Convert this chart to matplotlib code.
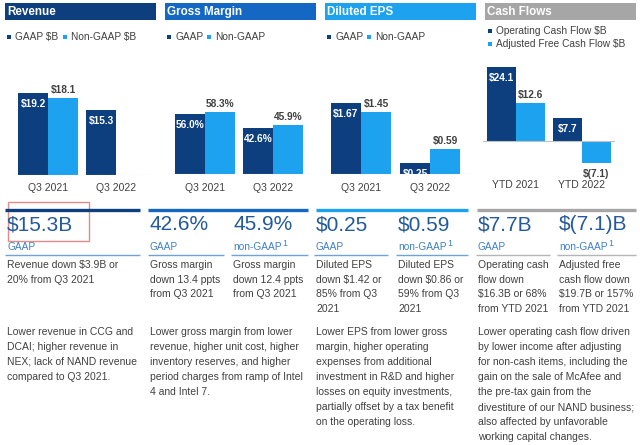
import matplotlib
matplotlib.use('Agg')
import matplotlib.pyplot as plt
from matplotlib.patches import Rectangle
from matplotlib.lines import Line2D

plt.rcParams['font.family'] = ['Liberation Sans', 'DejaVu Sans']
plt.rcParams['text.parse_math'] = False

# ---- data ----
periods_q = ['Q3 2021', 'Q3 2022']
periods_ytd = ['YTD 2021', 'YTD 2022']

revenue_gaap = [19.2, 15.3]
revenue_nongaap = [18.1, None]

margin_gaap = [56.0, 42.6]
margin_nongaap = [58.3, 45.9]

eps_gaap = [1.67, 0.25]
eps_nongaap = [1.45, 0.59]

op_cash_flow = [24.1, 7.7]
adj_free_cash_flow = [12.6, -7.1]

headers = ['Revenue', 'Gross Margin', 'Diluted EPS', 'Cash Flows']
big_numbers = ['$15.3B', '42.6%', '45.9%', '$0.25', '$0.59', '$7.7B', '$(7.1)B']
sub_labels = ['GAAP', 'GAAP', 'non-GAAP', 'GAAP', 'non-GAAP', 'GAAP', 'non-GAAP']
short_notes = [
    'Revenue down $3.9B or\n20% from Q3 2021',
    'Gross margin\ndown 13.4 ppts\nfrom Q3 2021',
    'Gross margin\ndown 12.4 ppts\nfrom Q3 2021',
    'Diluted EPS\ndown $1.42 or\n85% from Q3\n2021',
    'Diluted EPS\ndown $0.86 or\n59% from Q3\n2021',
    'Operating cash\nflow down\n$16.3B or 68%\nfrom YTD 2021',
    'Adjusted free\ncash flow down\n$19.7B or 157%\nfrom YTD 2021',
]
long_notes = [
    'Lower revenue in CCG and\nDCAI; higher revenue in\nNEX; lack of NAND revenue\ncompared to Q3 2021.',
    'Lower gross margin from lower\nrevenue, higher unit cost, higher\ninventory reserves, and higher\nperiod charges from ramp of Intel\n4 and Intel 7.',
    'Lower EPS from lower gross\nmargin, higher operating\nexpenses from additional\ninvestment in R&D and higher\nlosses on equity investments,\npartially offset by a tax benefit\non the operating loss.',
    'Lower operating cash flow driven\nby lower income after adjusting\nfor non-cash items, including the\ngain on the sale of McAfee and\nthe pre-tax gain from the\ndivestiture of our NAND business;\nalso affected by unfavorable\nworking capital changes.',
]

# ---- colours ----
NAVY = '#0d3f7e'
MID = '#1468c4'
SKY = '#1ca2ee'
GREY = '#a6a6a6'
TEXT = '#404040'
BIG = '#24599b'
SUB = '#3f80c6'

W, H = 640, 445
fig = plt.figure(figsize=(6.4, 4.45), dpi=100)


def fx(x):
    return x / W


def fy(y):
    return 1 - y / H


def ftext(x, y, s, **kw):
    kw.setdefault('va', 'center')
    kw.setdefault('ha', 'left')
    return fig.text(fx(x), fy(y), s, **kw)


def hline(x0, x1, y, color, lw):
    fig.add_artist(Line2D([fx(x0), fx(x1)], [fy(y), fy(y)], color=color, lw=lw,
                          solid_capstyle='butt', transform=fig.transFigure))


def rect(x, y, w, h, **kw):
    fig.add_artist(Rectangle((fx(x), fy(y + h)), w / W, h / H,
                             transform=fig.transFigure, **kw))


def make_ax(x0, x1, ytop, ybot, base, scale, c0, spacing):
    # axes placed so that value 0 sits on the chart baseline
    ax = fig.add_axes([fx(x0), fy(ybot), (x1 - x0) / W, (ybot - ytop) / H])
    ax.set_xlim((x0 - c0) / spacing, (x1 - c0) / spacing)
    ax.set_ylim((base - ybot) / scale, (base - ytop) / scale)
    ax.axis('off')
    ax.axhline(0, color='#c0c0c0', lw=0.8)
    return ax


def draw_bars(ax, gaap, nongaap, fmt, width, c_g, c_n, tick_labels, tick_y):
    for i, v in enumerate(gaap):
        ax.bar(i - width / 2, v, width, color=c_g)
        ax.annotate(fmt(v), (i - width / 2, v), xytext=(0, -6), textcoords='offset pixels',
                    ha='center', va='top', color='white', fontsize=7.3, fontweight='bold')
    for i, v in enumerate(nongaap):
        if v is None:
            continue
        ax.bar(i + width / 2, v, width, color=c_n)
        if v >= 0:
            ax.annotate(fmt(v), (i + width / 2, v), xytext=(0, 3), textcoords='offset pixels',
                        ha='center', va='bottom', color=TEXT, fontsize=7.3, fontweight='bold')
        else:
            ax.annotate(fmt(v), (i + width / 2, v), xytext=(0, -6), textcoords='offset pixels',
                        ha='center', va='top', color=TEXT, fontsize=7.3, fontweight='bold')
    for i, lab in enumerate(tick_labels):
        ax.annotate(lab, (i, H - tick_y), xycoords=('data', 'figure pixels'),
                    ha='center', va='center', color=TEXT, fontsize=7.5)


# ---- header bars ----
head_x = [5, 165, 325, 485]
head_c = [NAVY, MID, SKY, GREY]
for x, c, t in zip(head_x, head_c, headers):
    rect(x, 3, 151, 17, color=c, lw=0)
    ftext(x + 2, 12, t, color='white', fontsize=8.4, fontweight='bold')

# ---- legends ----
def legend_item(x, y, c, s):
    rect(x, y - 2, 4, 4, color=c, lw=0)
    ftext(x + 8, y, s, color=TEXT, fontsize=7.3)

legend_item(7, 37, NAVY, 'GAAP $B')
legend_item(63, 37, SKY, 'Non-GAAP $B')
legend_item(167, 37, NAVY, 'GAAP')
legend_item(207, 37, SKY, 'Non-GAAP')
legend_item(327, 37, NAVY, 'GAAP')
legend_item(367, 37, SKY, 'Non-GAAP')
legend_item(488, 31, NAVY, 'Operating Cash Flow $B')
legend_item(488, 44, SKY, 'Adjusted Free Cash Flow $B')

# ---- bar charts ----
ax1 = make_ax(12, 150, 55, 175, 175, 82 / 19.2, 48, 68)
draw_bars(ax1, revenue_gaap, revenue_nongaap, lambda v: f'${v:.1f}', 30 / 68,
          NAVY, SKY, periods_q, 188)

ax2 = make_ax(167, 313, 55, 174, 174, 60 / 56.0, 205, 68)
draw_bars(ax2, margin_gaap, margin_nongaap, lambda v: f'{v:.1f}%', 30 / 68,
          NAVY, SKY, periods_q, 188)

ax3 = make_ax(327, 474, 55, 174, 174, 71 / 1.67, 361, 69)
draw_bars(ax3, eps_gaap, eps_nongaap, lambda v: f'${v:.2f}', 30 / 69,
          NAVY, SKY, periods_q, 188)

ax4 = make_ax(483, 615, 55, 180, 141, 3.05, 516, 66)
draw_bars(ax4, op_cash_flow, adj_free_cash_flow,
          lambda v: f'${v:.1f}' if v >= 0 else f'$({-v:.1f})', 29 / 66,
          NAVY, SKY, periods_ytd, 185)

# ---- lower section ----
hline(5, 140, 210, NAVY, 2.4)
hline(148, 308, 210, MID, 2.4)
hline(316, 468, 210, SKY, 2.4)
hline(477, 636, 210, GREY, 2.4)

col_x = [7, 150, 233, 316, 398, 478, 559]
col_end = [140, 224, 308, 388, 468, 550, 636]
ul_color = ['#6fa3d8'] * 5 + ['#b5b5b5'] * 2

renderer = fig.canvas.get_renderer()
for x, xe, num, sub, note, uc in zip(col_x, col_end, big_numbers, sub_labels, short_notes, ul_color):
    ftext(x, 225, num, color=BIG, fontsize=15)
    t = ftext(x, 247, sub, color=SUB, fontsize=7.3)
    if sub != 'GAAP':
        bb = t.get_window_extent(renderer)
        fig.text(bb.x1 / W + 0.002, fy(243), '1', color=SUB, fontsize=6.3, va='center', ha='left')
    hline(x - 2, xe, 254.5, uc, 1.0)
    for k, line in enumerate(note.split('\n')):
        ftext(x, 265 + 14.6 * k, line, color=TEXT, fontsize=7.5)

long_x = [7, 150, 316, 478]
for x, note in zip(long_x, long_notes):
    for k, line in enumerate(note.split('\n')):
        ftext(x, 332 + 15 * k, line, color=TEXT, fontsize=7.5)

# highlight box around the revenue figure
rect(8, 202, 81, 39, fill=False, edgecolor='#e98a8a', lw=1.0)

fig.savefig('out.png', dpi=100)
